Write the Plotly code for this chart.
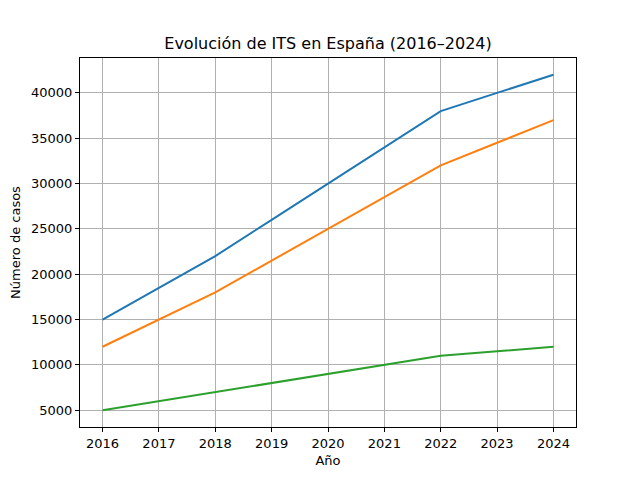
import plotly.graph_objects as go

years = [2016, 2017, 2018, 2019, 2020, 2021, 2022, 2023, 2024]
serie_a = [15000, 18500, 22000, 26000, 30000, 34000, 38000, 40000, 42000]
serie_b = [12000, 15000, 18000, 21500, 25000, 28500, 32000, 34500, 37000]
serie_c = [5000, 6000, 7000, 8000, 9000, 10000, 11000, 11500, 12000]

colors = ['#1f77b4', '#ff7f0e', '#2ca02c']

fig = go.Figure()
for ys, c in zip([serie_a, serie_b, serie_c], colors):
    fig.add_trace(go.Scatter(x=years, y=ys, mode='lines',
                             line=dict(color=c, width=2), showlegend=False))

axis_style = dict(
    showline=True, linecolor='black', linewidth=1, mirror=True,
    ticks='outside', ticklen=4, tickcolor='black',
    showgrid=True, gridcolor='#b0b0b0', gridwidth=1,
    zeroline=False, tickfont=dict(size=13, color='black'),
    automargin=False,
)

# the page body adds 8px, so margins are shifted to keep the plot area in place
fig.update_layout(
    width=640, height=480,
    margin=dict(l=72, r=72, t=50, b=61),
    paper_bgcolor='white', plot_bgcolor='white',
    font=dict(family='DejaVu Sans', color='black'),
    title=dict(text='Evolución de ITS en España (2016–2024)', x=0.5, xanchor='center',
               y=1 - 35 / 480, yanchor='middle', font=dict(size=16)),
    xaxis=dict(axis_style, range=[2015.6, 2024.4], tickmode='array', tickvals=years,
               title=dict(text='Año', font=dict(size=13), standoff=6)),
    yaxis=dict(axis_style, range=[3150, 43850], tickmode='array',
               tickvals=[5000, 10000, 15000, 20000, 25000, 30000, 35000, 40000],
               ticktext=['5000', '10000', '15000', '20000', '25000', '30000', '35000', '40000'],
               title=dict(text='Número de casos', font=dict(size=13), standoff=8)),
)

fig.write_html("out.html")
